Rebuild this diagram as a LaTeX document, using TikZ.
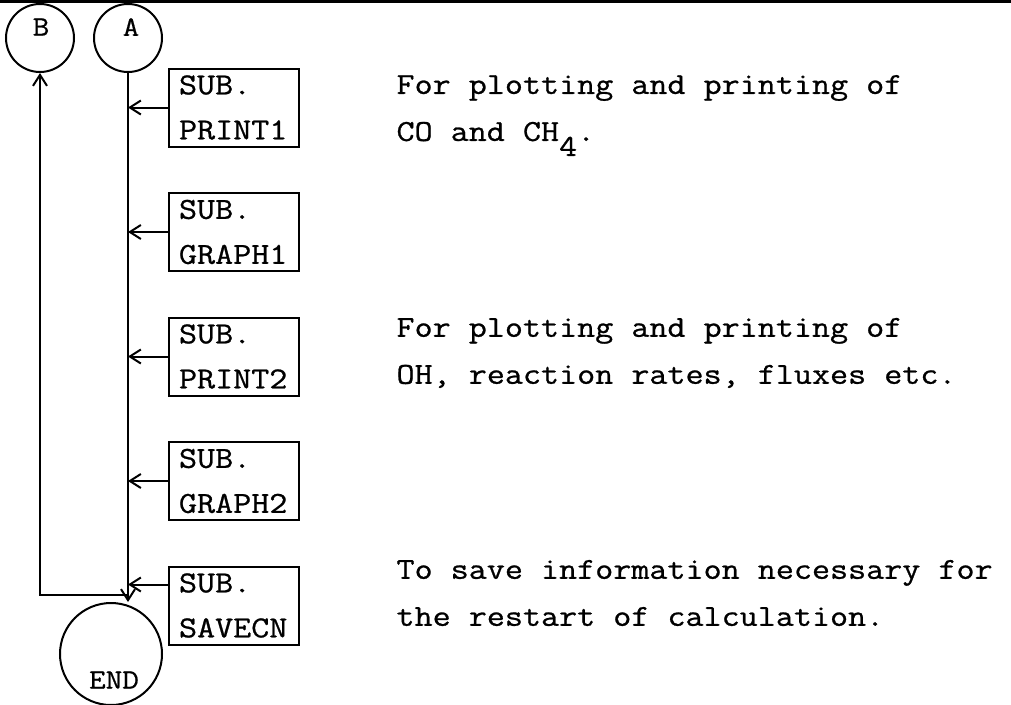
\documentclass[tikz,border=0pt]{standalone}
\usepackage{fontspec}
\setmonofont{Latin Modern Mono}[FakeStretch=1.15,FakeBold=0.8]
\usetikzlibrary{positioning,arrows.meta}
\tikzset{
  subbox/.style={draw,line width=2pt,minimum width=130pt,minimum height=78pt,text width=110pt,inner xsep=10pt,align=left,font=\ttfamily\fontsize{30.5}{45}\selectfont},
  conn/.style={draw,circle,line width=2pt,minimum size=68pt,inner sep=0pt},
  clabel/.style={font=\ttfamily\fontsize{28}{28}\selectfont,inner sep=0pt},
  note/.style={anchor=west,align=left,font=\ttfamily\fontsize{30.5}{47}\selectfont},
  arrow/.style={-{Straight Barb[length=11pt,width=14pt,line width=2pt]},line width=2pt},
}

\begin{document}
\begin{tikzpicture}[x=1pt,y=-1pt,node distance=44.5pt]
      \useasboundingbox (0,0) rectangle (1011,704);
      \draw[line width=3pt] (0,1.5) -- (1011,1.5);
      % connectors
      \node[conn] (B) at (40,38) {};
      \node[conn] (A) at (128,38) {};
      \node[conn,minimum size=102pt] (END) at (111,654) {};
      \node[clabel] (Bl) at (41,27) {B};
      \node[clabel] (Al) at (131,27) {A};
      \node[clabel] (ENDl) at (114,680) {END};
      % subroutines
      \node[subbox] (print1) at (234,107.5) {SUB.\\PRINT1};
      \node[subbox,below=of print1] (graph1) {SUB.\\GRAPH1};
      \node[subbox,below=of graph1] (print2) {SUB.\\PRINT2};
      \node[subbox,below=of print2] (graph2) {SUB.\\GRAPH2};
      \node[subbox,below=of graph2] (savecn) {SUB.\\SAVECN};
      % notes
      \node[note] (n1) at (393,115.5) {For plotting and printing of\\CO and CH\raisebox{-15pt}{4}.};
      \node[note] (n2) at (393,353) {For plotting and printing of\\OH, reaction rates, fluxes etc.};
      \node[note] (n3) at (393,593) {To save information necessary for\\the restart of calculation.};
      \coordinate (jn) at (A |- 0,595);
      \draw[arrow] (A) -- (A |- END.north);
      \draw[arrow] (jn) -| (B);
      \draw[arrow] (print1) -- (print1 -| A); \draw[arrow] (graph1) -- (graph1 -| A);
      \draw[arrow] (print2) -- (print2 -| A); \draw[arrow] (graph2) -- (graph2 -| A);
      \draw[arrow] ([yshift=21pt]savecn.west) -- ([yshift=21pt]savecn.west -| A);
    \end{tikzpicture}
\end{document}
